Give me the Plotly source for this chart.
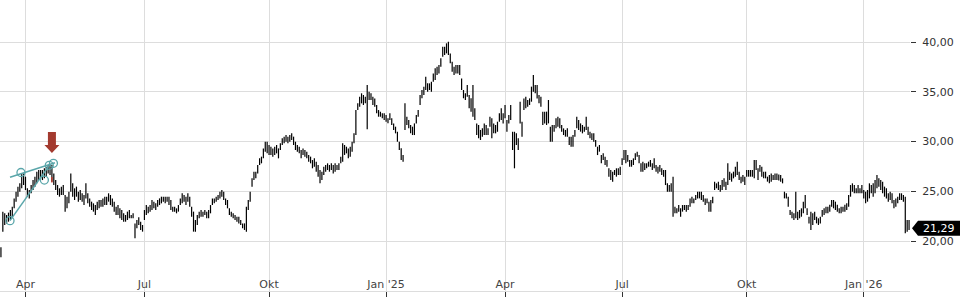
import pandas as pd
import plotly.graph_objects as go

# ---------------- data ----------------
start_date = "2024-03-12"
holidays = ["2024-03-29", "2024-04-01", "2024-05-01", "2024-12-24", "2024-12-25",
            "2024-12-26", "2024-12-31", "2025-01-01", "2025-04-18", "2025-04-21",
            "2025-05-01", "2025-12-24", "2025-12-25", "2025-12-26", "2025-12-31",
            "2026-01-01"]

high = [
19.40, 22.97, 22.80, 22.63, 22.87, 23.13, 23.47, 24.30, 24.97, 25.48,
25.81, 26.81, 26.81, 26.48, 25.31, 25.14, 25.64, 26.14, 26.48, 26.98,
27.15, 27.15, 27.15, 27.32, 27.48, 27.65, 27.65, 27.65, 26.81, 26.14,
25.64, 25.31, 25.48, 25.64, 24.64, 24.47, 24.97, 26.81, 25.81, 25.31,
25.48, 24.97, 25.14, 24.81, 24.64, 25.81, 24.81, 24.30, 23.97, 23.80,
23.63, 23.97, 24.14, 24.14, 24.30, 24.47, 24.47, 24.81, 24.64, 24.30,
23.97, 23.47, 23.63, 23.30, 23.13, 22.80, 22.63, 22.97, 23.13, 22.63,
22.80, 21.79, 22.13, 22.40, 21.96, 21.63, 23.13, 23.63, 23.47, 23.63,
24.14, 23.97, 23.80, 24.14, 24.30, 24.47, 24.47, 24.47, 24.47, 24.47,
24.14, 23.47, 23.47, 23.30, 23.63, 24.30, 24.81, 24.64, 24.47, 24.81,
24.47, 23.47, 22.97, 22.13, 22.63, 22.97, 23.13, 22.97, 23.13, 22.97,
23.13, 23.63, 24.30, 24.30, 24.47, 24.64, 24.97, 25.14, 24.97, 24.30,
24.14, 23.30, 22.97, 22.80, 22.63, 22.46, 22.46, 22.13, 21.79, 21.79,
23.47, 24.14, 24.97, 26.31, 26.98, 26.98, 27.65, 28.32, 28.49, 29.32,
29.99, 29.99, 29.66, 29.49, 29.32, 29.49, 29.66, 29.32, 29.83, 30.33,
30.50, 30.66, 30.50, 30.66, 30.83, 30.50, 29.99, 29.66, 29.49, 29.16,
29.32, 29.16, 28.99, 28.66, 28.49, 28.15, 28.32, 27.99, 27.65, 27.15,
26.98, 27.48, 27.65, 27.82, 27.65, 27.82, 27.65, 27.82, 27.65, 27.82,
28.49, 29.83, 29.66, 29.49, 29.32, 29.49, 29.99, 30.83, 33.17, 33.84,
34.51, 34.85, 34.68, 34.51, 35.68, 35.01, 34.85, 34.51, 34.34, 33.68,
33.17, 33.00, 32.84, 32.84, 32.67, 32.34, 32.84, 32.34, 31.83, 31.50,
30.99, 29.99, 29.33, 28.66, 33.84, 32.50, 32.17, 31.67, 31.50, 31.83,
32.67, 33.17, 34.68, 35.18, 35.52, 36.52, 35.85, 35.85, 36.02, 36.85,
37.36, 37.52, 37.69, 38.36, 39.53, 39.53, 39.87, 40.03, 38.86, 38.03,
37.52, 37.69, 37.69, 37.69, 36.35, 35.18, 34.85, 35.68, 34.68, 34.35,
35.68, 33.34, 31.83, 31.67, 31.17, 31.33, 31.83, 31.67, 31.33, 32.50,
32.34, 31.83, 31.67, 32.00, 32.84, 33.34, 32.84, 33.68, 32.17, 32.67,
33.68, 30.99, 30.99, 30.83, 30.33, 34.01, 32.00, 34.34, 34.51, 34.18,
34.34, 35.52, 36.69, 35.68, 35.68, 34.68, 34.51, 33.01, 33.01, 33.01,
34.18, 31.50, 31.67, 31.67, 32.34, 32.50, 32.34, 31.67, 31.33, 31.17,
31.33, 30.50, 30.50, 30.66, 31.17, 32.50, 32.17, 31.83, 31.67, 31.50,
32.50, 31.50, 31.00, 30.83, 30.83, 30.16, 29.49, 29.66, 28.65, 28.82,
28.49, 28.15, 27.32, 27.15, 26.98, 27.15, 27.32, 27.32, 27.48, 28.32,
29.16, 29.16, 28.65, 28.15, 28.15, 28.32, 28.82, 28.99, 28.65, 27.82,
27.99, 27.82, 27.82, 27.99, 28.15, 27.82, 28.32, 27.65, 27.48, 27.65,
27.32, 27.15, 27.15, 25.81, 25.64, 25.81, 26.48, 23.47, 23.30, 23.63,
23.30, 23.63, 23.63, 23.63, 23.63, 24.30, 24.47, 24.30, 24.64, 24.97,
24.97, 24.97, 24.64, 24.30, 24.30, 23.97, 24.14, 24.47, 25.98, 25.81,
25.98, 25.64, 26.15, 26.31, 25.98, 27.82, 26.98, 26.81, 26.98, 27.48,
27.99, 26.98, 26.48, 26.65, 26.48, 27.15, 27.15, 27.15, 27.15, 28.15,
28.15, 27.32, 27.65, 27.48, 26.98, 26.98, 26.48, 26.65, 26.81, 26.65,
26.81, 26.81, 26.70, 26.65, 26.31, 24.97, 24.81, 24.47, 23.13, 22.97,
22.80, 24.97, 22.97, 23.13, 23.30, 23.97, 24.64, 23.30, 22.46, 22.97,
22.80, 22.97, 22.46, 22.30, 22.46, 23.13, 23.30, 23.47, 23.47, 23.67,
24.14, 24.14, 23.97, 23.67, 23.30, 23.47, 23.47, 23.67, 23.80, 24.64,
25.64, 25.81, 25.64, 25.31, 25.64, 25.31, 25.64, 25.14, 24.97, 25.14,
25.81, 25.64, 25.81, 26.15, 26.65, 26.31, 26.15, 25.98, 25.48, 25.31,
24.81, 24.97, 24.81, 24.14, 24.30, 24.47, 24.81, 24.81, 24.64, 24.47,
22.13, 22.13,
]

low = [
18.40, 20.96, 21.63, 21.79, 21.96, 22.13, 22.30, 23.30, 23.97, 24.47,
24.97, 25.31, 25.64, 25.14, 24.47, 24.30, 24.81, 25.14, 25.48, 25.81,
26.14, 26.31, 26.14, 26.31, 26.48, 26.81, 26.65, 25.98, 25.64, 25.14,
24.64, 24.47, 24.64, 24.64, 22.97, 23.30, 23.80, 24.97, 24.47, 24.14,
24.47, 23.97, 24.14, 23.97, 23.63, 24.30, 23.80, 23.47, 23.13, 22.97,
22.63, 23.13, 23.30, 23.47, 23.47, 23.63, 23.63, 23.97, 23.63, 23.47,
22.97, 22.63, 22.63, 22.30, 22.13, 21.96, 21.96, 22.13, 22.30, 22.30,
22.30, 20.29, 21.29, 21.63, 21.13, 20.96, 22.13, 22.63, 22.80, 22.97,
23.13, 23.30, 23.13, 23.47, 23.63, 23.80, 23.97, 23.80, 23.97, 23.63,
23.13, 22.97, 22.97, 22.80, 22.97, 23.63, 23.80, 23.97, 23.63, 23.97,
23.47, 22.46, 20.96, 20.96, 21.63, 22.30, 22.46, 22.46, 22.63, 22.30,
22.30, 22.80, 23.63, 23.80, 23.97, 24.14, 24.30, 24.47, 24.14, 23.63,
23.30, 22.63, 22.46, 22.30, 22.13, 21.96, 21.79, 21.63, 21.29, 21.13,
20.96, 23.13, 23.97, 25.48, 26.14, 26.31, 26.81, 27.65, 27.82, 28.32,
28.99, 28.82, 28.66, 28.66, 28.49, 28.66, 28.82, 28.32, 29.16, 29.66,
29.83, 29.99, 29.83, 29.99, 30.16, 29.66, 29.16, 28.99, 28.82, 28.32,
28.66, 28.49, 28.32, 27.99, 27.82, 27.32, 27.48, 26.98, 26.48, 25.81,
26.14, 26.65, 26.98, 27.15, 26.98, 27.15, 26.81, 26.98, 27.15, 27.15,
27.82, 27.99, 28.66, 28.82, 28.32, 28.49, 28.99, 29.83, 30.66, 33.17,
33.51, 33.84, 33.68, 33.84, 31.23, 34.18, 34.18, 33.68, 33.51, 32.84,
32.50, 32.50, 32.34, 32.17, 32.00, 31.84, 32.17, 31.67, 31.17, 30.83,
29.99, 29.16, 28.15, 27.99, 31.17, 31.67, 31.33, 30.83, 30.66, 30.66,
31.83, 32.50, 33.68, 34.35, 34.68, 35.18, 35.01, 35.18, 35.01, 36.02,
36.19, 36.69, 36.85, 37.52, 38.53, 38.70, 38.86, 38.70, 37.86, 37.02,
36.69, 36.85, 36.85, 36.69, 35.18, 34.35, 34.18, 34.51, 33.34, 33.00,
32.50, 32.17, 30.66, 30.33, 30.16, 30.50, 30.66, 30.66, 30.66, 31.50,
30.33, 30.83, 30.83, 30.99, 32.00, 32.17, 31.83, 32.34, 30.99, 31.83,
32.17, 29.16, 27.32, 29.66, 29.16, 31.83, 30.50, 33.17, 33.34, 33.51,
33.68, 34.01, 35.01, 34.85, 34.34, 33.84, 33.51, 31.67, 31.83, 31.67,
31.83, 29.99, 29.99, 31.00, 31.33, 31.50, 31.33, 31.00, 30.66, 30.50,
30.50, 29.66, 29.49, 29.49, 30.50, 31.33, 31.17, 31.00, 30.83, 31.00,
31.17, 30.66, 30.33, 30.16, 29.99, 29.49, 28.65, 28.99, 27.82, 28.15,
27.65, 27.48, 26.48, 26.15, 25.98, 26.65, 26.48, 26.65, 26.65, 27.65,
28.15, 27.82, 27.99, 27.48, 27.48, 27.65, 28.15, 28.49, 27.82, 26.98,
26.98, 27.15, 27.32, 27.48, 27.48, 27.15, 27.32, 26.98, 26.81, 26.98,
26.65, 26.48, 25.64, 24.97, 24.97, 24.97, 22.46, 22.80, 22.80, 22.97,
22.46, 22.97, 23.13, 22.97, 23.13, 23.47, 23.80, 23.80, 24.14, 24.30,
24.30, 24.14, 23.97, 23.63, 23.80, 22.97, 22.97, 23.80, 25.14, 25.31,
25.14, 24.97, 25.14, 25.48, 25.14, 25.64, 26.15, 25.98, 26.31, 26.48,
26.65, 26.15, 25.81, 25.98, 25.64, 26.48, 26.48, 26.48, 26.48, 26.31,
27.15, 26.15, 26.98, 26.48, 26.31, 26.31, 25.98, 25.81, 25.98, 26.15,
26.15, 26.15, 26.10, 25.98, 25.81, 24.30, 24.30, 23.47, 22.63, 22.30,
22.13, 22.30, 22.13, 22.30, 22.46, 22.80, 23.30, 22.63, 21.79, 21.13,
21.63, 22.13, 21.79, 21.63, 21.79, 22.46, 22.63, 22.80, 22.80, 22.97,
23.47, 23.30, 23.13, 22.97, 22.80, 22.80, 22.97, 22.97, 23.13, 23.47,
24.47, 24.97, 24.81, 24.81, 24.81, 24.81, 24.81, 24.30, 23.80, 23.97,
24.30, 24.81, 24.47, 24.81, 25.31, 25.48, 25.14, 24.81, 24.47, 24.30,
23.97, 24.14, 23.80, 23.30, 23.47, 23.80, 24.14, 24.14, 23.97, 20.79,
20.96, 21.13,
]

last_price = 21.29

# signal marker (red arrow) and signal bar
signal_idx = 27
signal_arrow_price = 28.85
signal_bar_low = 25.90
signal_bar_high = 26.45

# chart pattern (wedge) drawn in teal
pattern_upper_x = [4.8, 28.6]
pattern_upper_y = [26.42, 27.88]
pattern_lower_x = [4.8, 25.6]
pattern_lower_y = [22.06, 27.62]
pattern_points_x = [4.8, 10.6, 23.0, 25.6, 27.8]
pattern_points_y = [22.06, 26.90, 26.14, 27.62, 27.82]

month_names = {1: "Jan", 4: "Apr", 7: "Jul", 10: "Okt"}
y_ticks = [15, 20, 25, 30, 35, 40]

assert len(high) == len(low)
n = len(high)

# ---------------- trading calendar & x ticks ----------------
hol = set(holidays)
days = [d for d in pd.bdate_range(start_date, periods=n + 60) if d.strftime("%Y-%m-%d") not in hol][:n]
tickvals, ticktext = [], []
prev = None
for i, d in enumerate(days):
    if prev is not None and d.month != prev and d.month in month_names:
        tickvals.append(i)
        lab = month_names[d.month]
        if d.month == 1:
            lab += " '" + f"{d.year % 100:02d}"
        ticktext.append(lab)
    prev = d.month

# ---------------- figure ----------------
xs, ys = [], []
for i, (h, l) in enumerate(zip(high, low)):
    xs += [i, i, None]
    ys += [l, h, None]

fig = go.Figure()
fig.add_trace(go.Scatter(x=xs, y=ys, mode="lines",
                         line=dict(color="#000000", width=1.2), hoverinfo="skip"))
fig.add_trace(go.Scatter(x=[signal_idx, signal_idx], y=[signal_bar_low, signal_bar_high],
                         mode="lines", line=dict(color="#c0392b", width=1.4), hoverinfo="skip"))

teal = "#5aa6aa"
fig.add_trace(go.Scatter(x=pattern_upper_x, y=pattern_upper_y, mode="lines",
                         line=dict(color=teal, width=1.5), hoverinfo="skip"))
fig.add_trace(go.Scatter(x=pattern_lower_x, y=pattern_lower_y, mode="lines",
                         line=dict(color=teal, width=1.5), hoverinfo="skip"))
fig.add_trace(go.Scatter(x=pattern_points_x, y=pattern_points_y, mode="markers",
                         marker=dict(symbol="circle-open", size=8, color=teal,
                                     line=dict(color=teal, width=1.3)),
                         hoverinfo="skip"))

# red signal arrow (pixel-sized, anchored on the signal bar)
fig.add_shape(type="path", xref="x", yref="y", xsizemode="pixel", ysizemode="pixel",
              xanchor=signal_idx, yanchor=signal_arrow_price,
              path="M0,0 L-7.5,8 L-4,8 L-4,21 L4,21 L4,8 L7.5,8 Z",
              fillcolor="#a33a2f", line=dict(width=0), layer="above")

# last price tag
fig.add_shape(type="path", xref="paper", yref="y", xsizemode="pixel", ysizemode="pixel",
              xanchor=1, yanchor=last_price,
              path="M2,0 L8,7.5 L50,7.5 L50,-7.5 L8,-7.5 Z",
              fillcolor="#000000", line=dict(width=0), layer="above")
fig.add_annotation(xref="paper", yref="y", x=1, y=last_price, xanchor="left", yanchor="middle",
                   xshift=11, text=f"{last_price:.2f}".replace(".", ","), showarrow=False,
                   font=dict(color="#ffffff", size=11, family="DejaVu Sans"))

grid = "#dddddd"
fig.update_layout(
    width=960, height=300,
    margin=dict(l=0, r=50, t=0, b=9),
    paper_bgcolor="#ffffff", plot_bgcolor="#ffffff",
    showlegend=False, separators=",.",
    font=dict(family="DejaVu Sans", size=11, color="#333333"),
    xaxis=dict(range=[-0.5, n - 0.5], tickmode="array", tickvals=tickvals, ticktext=ticktext,
               showgrid=True, gridcolor=grid, gridwidth=1, zeroline=False,
               ticks="outside", ticklen=5, tickcolor="#333333",
               ticklabelposition="inside", showline=True, linecolor=grid, linewidth=1),
    yaxis=dict(side="right", range=[15, 44.22], tickmode="array", tickvals=y_ticks,
               tickformat=".2f", showgrid=True, gridcolor=grid, gridwidth=1, zeroline=False,
               ticks="outside", ticklen=5, tickcolor="#333333", ticklabelstandoff=4,
               showline=False),
)

fig.write_html("out.html", config={"displayModeBar": False})
